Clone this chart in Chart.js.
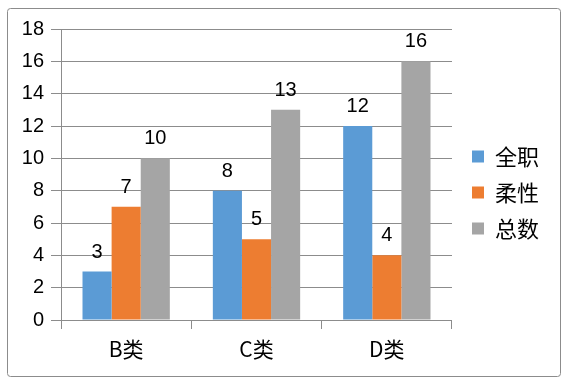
<!DOCTYPE html>
<html>
<head>
<meta charset="utf-8">
<script src="https://cdn.jsdelivr.net/npm/chart.js@4/dist/chart.umd.min.js"></script>
<style>
html,body{margin:0;padding:0;background:#fff;}
#wrap{width:568px;height:385px;position:relative;}
</style>
</head>
<body>
<div id="wrap"><canvas id="c" width="568" height="385"></canvas></div>
<script>
const categories = ['B类', 'C类', 'D类'];
const seriesNames = ['全职', '柔性', '总数'];
const fullTime = [3, 8, 12];
const flexible = [7, 5, 4];
const total = [10, 13, 16];
const yTicks = [0, 2, 4, 6, 8, 10, 12, 14, 16, 18];
const colors = ['#5B9BD5', '#ED7D31', '#A5A5A5'];

const FONT = "'Liberation Sans', Arial, sans-serif";
const CJK = "'Noto Sans CJK SC', 'Liberation Sans', sans-serif";

const frame = {
  id: 'frame',
  beforeDraw(chart) {
    const ctx = chart.ctx;
    ctx.save();
    ctx.fillStyle = '#fff';
    ctx.fillRect(0, 0, chart.width, chart.height);
    ctx.strokeStyle = '#8c8c8c';
    ctx.lineWidth = 1;
    ctx.beginPath();
    if (ctx.roundRect) ctx.roundRect(7.5, 8.5, 553, 368, 3); else ctx.rect(7.5, 8.5, 553, 368);
    ctx.stroke();
    ctx.restore();
  }
};

const valueLabels = {
  id: 'valueLabels',
  afterDatasetsDraw(chart) {
    const ctx = chart.ctx;
    ctx.save();
    ctx.fillStyle = '#000';
    ctx.font = '20px ' + FONT;
    ctx.textAlign = 'center';
    ctx.textBaseline = 'alphabetic';
    chart.data.datasets.forEach((ds, i) => {
      const meta = chart.getDatasetMeta(i);
      meta.data.forEach((bar, j) => {
        ctx.fillText(String(ds.data[j]), bar.x, bar.y - 14);
      });
    });
    ctx.restore();
  }
};

new Chart(document.getElementById('c'), {
  type: 'bar',
  data: {
    labels: categories,
    datasets: [
      { label: seriesNames[0], data: fullTime, backgroundColor: colors[0] },
      { label: seriesNames[1], data: flexible, backgroundColor: colors[1] },
      { label: seriesNames[2], data: total, backgroundColor: colors[2] }
    ]
  },
  options: {
    responsive: false,
    animation: false,
    devicePixelRatio: 1,
    layout: { padding: { left: 0, right: 19, top: 0, bottom: 0 } },
    datasets: { bar: { categoryPercentage: 0.67, barPercentage: 1.0 } },
    scales: {
      x: {
        grid: { display: true, drawOnChartArea: false, drawTicks: true, tickLength: 9, color: '#8c8c8c', offset: true },
        border: { display: true, color: '#8c8c8c' },
        ticks: { color: '#000', font: { family: CJK, size: 21 }, padding: 7 },
        afterFit(s) { s.height = 65; }
      },
      y: {
        min: 0, max: 18,
        afterBuildTicks(s) { s.ticks = yTicks.map(v => ({ value: v })); },
        grid: { color: '#8c8c8c', tickLength: 10, drawTicks: true },
        border: { display: true, color: '#8c8c8c' },
        ticks: { color: '#000', font: { family: FONT, size: 20 }, padding: 7 },
        afterFit(s) { s.width = 61; }
      },
      gap: {
        type: 'linear',
        position: 'right',
        display: true,
        grid: { display: false, drawTicks: false },
        border: { display: false },
        ticks: { display: false },
        afterFit(s) { s.width = 6; }
      }
    },
    plugins: {
      title: {
        display: true,
        text: ' ',
        fullSize: false,
        font: { size: 10, lineHeight: 1 },
        padding: { top: 19, bottom: 0 }
      },
      legend: {
        position: 'right',
        labels: {
          boxWidth: 12, boxHeight: 12, padding: 14,
          color: '#000',
          font: { family: CJK, size: 22 }
        }
      },
      tooltip: { enabled: false }
    }
  },
  plugins: [frame, valueLabels]
});
</script>
</body>
</html>
